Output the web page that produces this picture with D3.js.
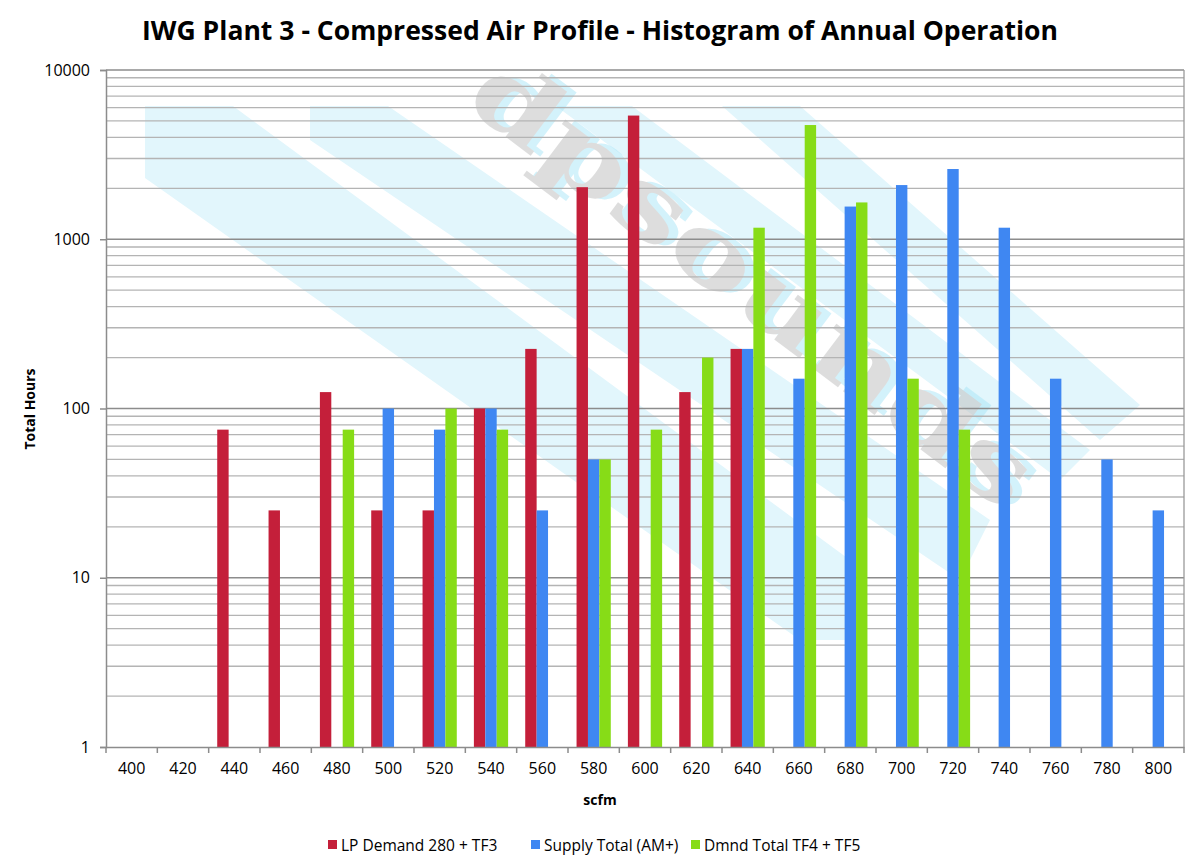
<!DOCTYPE html>
<html>
<head>
<meta charset="utf-8">
<script src="https://cdn.jsdelivr.net/npm/d3@7"></script>
<style>
  body { margin: 0; background: #fff; }
  svg text { font-family: "Open Sans", "Noto Sans", sans-serif; fill: #000; }
</style>
</head>
<body>
<script>
// scfm bins
var categories = ["400","420","440","460","480","500","520","540","560","580","600","620","640","660","680","700","720","740","760","780","800"];

// total hours per bin (0 = no bar)
var lpDemand   = [0, 0, 75, 25, 125, 25, 25, 100, 225, 2030, 5380, 125, 225, 0, 0, 0, 0, 0, 0, 0, 0];
var supplyTot  = [0, 0, 0, 0, 0, 100, 75, 100, 25, 50, 0, 0, 225, 150, 1560, 2090, 2600, 1170, 150, 50, 25];
var dmndTotal  = [0, 0, 0, 0, 75, 0, 100, 75, 0, 50, 75, 200, 1170, 4730, 1650, 150, 75, 0, 0, 0, 0];

var seriesNames = ["LP Demand 280 + TF3", "Supply Total (AM+)", "Dmnd Total TF4 + TF5"];
var seriesColors = ["#c41f3a", "#3f87f2", "#87dc17"];
var yTicks = [1, 10, 100, 1000, 10000];

var W = 1200, H = 866;
var m = {top: 70, right: 16, bottom: 119, left: 106};

var svg = d3.select("body").append("svg")
    .attr("width", W)
    .attr("height", H);

var x = d3.scaleBand()
    .domain(categories)
    .range([m.left, W - m.right])
    .paddingInner(1/3)
    .paddingOuter(1/6);

var xSub = d3.scaleBand()
    .domain(d3.range(3))
    .range([0, x.bandwidth()]);

var y = d3.scaleLog()
    .domain([1, 10000])
    .range([H - m.bottom, m.top]);

// watermark bands (decoration behind the plot)
var bands = [
  [[145,106],[233,106],[850,560],[850,640],[800,640],[145,178]],
  [[310,106],[388,106],[990,520],[960,580],[310,140]],
  [[556,106],[632,106],[1090,450],[1060,480]],
  [[722,106],[800,106],[1140,405],[1100,440]]
];
svg.append("g").selectAll("polygon")
    .data(bands)
    .join("polygon")
    .attr("points", d => d.map(p => p.join(",")).join(" "))
    .attr("fill", "#e2f6fc");

var wm = svg.append("g")
    .attr("transform", "translate(462,104) rotate(37)")
    .attr("opacity", 0.5);
wm.append("text")
    .attr("x", 8).attr("y", -5)
    .style("font-family", "DejaVu Serif")
    .style("font-weight", "bold")
    .style("font-size", "96px")
    .style("fill", "#a8e6f8")
    .attr("textLength", 680)
    .attr("lengthAdjust", "spacingAndGlyphs")
    .text("dpsounds");
wm.append("text")
    .style("font-family", "DejaVu Serif")
    .style("font-weight", "bold")
    .style("font-size", "96px")
    .style("fill", "#bdbdbd")
    .attr("textLength", 680)
    .attr("lengthAdjust", "spacingAndGlyphs")
    .text("dpsounds");

// gridlines: minor 2..9 per decade, major at decades
var minor = [];
for (var e = 0; e < 4; e++) {
  for (var k = 2; k <= 9; k++) minor.push(k * Math.pow(10, e));
}
svg.append("g").selectAll("line")
    .data(minor)
    .join("line")
    .attr("x1", m.left).attr("x2", W - m.right)
    .attr("y1", d => y(d)).attr("y2", d => y(d))
    .attr("stroke", "#b4b4b4")
    .attr("stroke-width", 1.3);

svg.append("g").selectAll("line")
    .data(yTicks.slice(1))
    .join("line")
    .attr("x1", m.left).attr("x2", W - m.right)
    .attr("y1", d => y(d)).attr("y2", d => y(d))
    .attr("stroke", "#8c8c8c")
    .attr("stroke-width", 1.5);

// right border
svg.append("line")
    .attr("x1", W - m.right).attr("x2", W - m.right)
    .attr("y1", m.top).attr("y2", H - m.bottom)
    .attr("stroke", "#9a9a9a")
    .attr("stroke-width", 1.3);

// bars
var allSeries = [lpDemand, supplyTot, dmndTotal];
allSeries.forEach(function (vals, s) {
  svg.append("g")
    .selectAll("rect")
    .data(vals.map((v, i) => ({cat: categories[i], v: v})).filter(d => d.v > 0))
    .join("rect")
    .attr("x", d => x(d.cat) + xSub(s))
    .attr("width", xSub.bandwidth())
    .attr("y", d => y(d.v))
    .attr("height", d => y(1) - y(d.v))
    .attr("fill", seriesColors[s]);
});

// y axis
var yAxis = svg.append("g")
    .attr("transform", "translate(" + m.left + ",0)")
    .call(d3.axisLeft(y).tickValues(yTicks).tickFormat(d3.format("d")).tickSize(6).tickPadding(10));
yAxis.select(".domain").attr("stroke", "#8c8c8c").attr("stroke-width", 1.5);
yAxis.selectAll(".tick line").attr("stroke", "#8c8c8c").attr("stroke-width", 1.5);
yAxis.selectAll(".tick text").attr("font-size", 16).style("font-family", "Open Sans");

// x axis
var step = x.step();
var xAxis = svg.append("g")
    .attr("transform", "translate(0," + (H - m.bottom) + ")")
    .call(d3.axisBottom(x).tickSize(0).tickPadding(16));
xAxis.select(".domain").attr("stroke", "#8c8c8c").attr("stroke-width", 1.5);
xAxis.selectAll(".tick text").attr("font-size", 16).style("font-family", "Open Sans");
xAxis.selectAll(".tick")
    .append("line")
    .attr("x1", -step / 2).attr("x2", -step / 2)
    .attr("y1", 0).attr("y2", 6)
    .attr("stroke", "#8c8c8c").attr("stroke-width", 1.5);
xAxis.append("line")
    .attr("x1", W - m.right).attr("x2", W - m.right)
    .attr("y1", 0).attr("y2", 6)
    .attr("stroke", "#8c8c8c").attr("stroke-width", 1.5);

// titles
svg.append("text")
    .attr("x", 600).attr("y", 40)
    .attr("text-anchor", "middle")
    .attr("font-size", 27)
    .attr("font-weight", "bold")
    .attr("textLength", 916)
    .attr("lengthAdjust", "spacingAndGlyphs")
    .text("IWG Plant 3 - Compressed Air Profile - Histogram of Annual Operation");

svg.append("text")
    .attr("x", 600).attr("y", 805)
    .attr("text-anchor", "middle")
    .attr("font-size", 14)
    .attr("font-weight", "bold")
    .text("scfm");

svg.append("text")
    .attr("transform", "translate(35,409) rotate(-90)")
    .attr("text-anchor", "middle")
    .attr("font-size", 14)
    .attr("font-weight", "bold")
    .text("Total Hours");

// legend
var legendX = [328, 531, 691];
var lg = svg.append("g").selectAll("g")
    .data(seriesNames)
    .join("g")
    .attr("transform", (d, i) => "translate(" + legendX[i] + ",845)");
lg.append("rect")
    .attr("x", 0).attr("y", -5)
    .attr("width", 9).attr("height", 9)
    .attr("fill", (d, i) => seriesColors[i]);
lg.append("text")
    .attr("x", 13).attr("y", 5.5)
    .attr("font-size", 15.5)
    .text(d => d);
</script>
</body>
</html>
